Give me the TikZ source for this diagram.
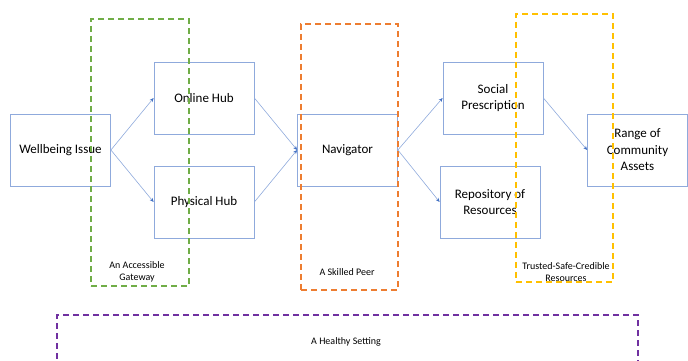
\documentclass[tikz,border=0pt]{standalone}
\usepackage{fontspec}
\setmainfont{Carlito}
\usetikzlibrary{arrows.meta,positioning}
\definecolor{boxblue}{RGB}{143,170,220}
\definecolor{tipblue}{RGB}{68,114,196}
\definecolor{gatewaygreen}{RGB}{112,173,71}
\definecolor{peerorange}{RGB}{237,125,49}
\definecolor{trustyellow}{RGB}{255,192,0}
\definecolor{settingpurple}{RGB}{112,48,160}

\begin{document}
\begin{tikzpicture}[x=1pt, y=-1pt,
    stage/.style={draw=boxblue, line width=0.8pt, minimum width=100pt, minimum height=72pt, align=center, font=\fontsize{13}{16.5}\selectfont},
    frame/.style={dashed, dash pattern=on 6pt off 4pt, line width=1.8pt, inner sep=0pt},
    tag/.style={font=\fontsize{10}{12.5}\selectfont, align=center},
    flow/.style={draw=boxblue, line width=0.6pt, -{Stealth[length=4pt, width=3.5pt, color=tipblue]}}]
    \clip (0,0) rectangle (688,361);
    % stages
    \node[stage] (issue) at (60.5,150) {Wellbeing Issue};
    \node[stage] (online) at (204,98) {Online Hub};
    \node[stage] (physical) at (204,202) {Physical Hub};
    \node[stage] (navigator) at (347.5,150) {Navigator};
    \node[stage] (social) at (493,98) {Social\\Prescription};
    \node[stage] (repository) at (490,202) {Repository of\\Resources};
    \node[stage] (assets) at (637.5,150) {Range of\\Community\\Assets};
    \draw[flow] (issue.east) -- (online.west);
    \draw[flow] (issue.east) -- (physical.west);
    \draw[flow] (online.east) -- (navigator.west);
    \draw[flow] (physical.east) -- (navigator.west);
    \draw[flow] (navigator.east) -- (social.west);
    \draw[flow] (navigator.east) -- (repository.west);
    \draw[flow] (social.east) -- (assets.west);
    % dashed frames
    \node[frame, draw=gatewaygreen, minimum width=98pt, minimum height=267pt] (gateway) at (140,152.5) {};
    \node[frame, draw=peerorange, minimum width=97pt, minimum height=266pt] (peer) at (349.5,157) {};
    \node[frame, draw=trustyellow, minimum width=97pt, minimum height=268pt] (trusted) at (564.5,148) {};
    \node[frame, draw=settingpurple, minimum width=581pt, minimum height=90pt] (setting) at (347.5,360) {};
    \node[tag] (gatewaytag) at (137,272) {An Accessible\\Gateway};
    \node[tag] (peertag) at (347,272) {A Skilled Peer};
    \node[tag] (trustedtag) at (566,272) {Trusted-Safe-Credible\\Resources};
    \node[tag] (settingtag) at (346,342) {A Healthy Setting};
\end{tikzpicture}
\end{document}
